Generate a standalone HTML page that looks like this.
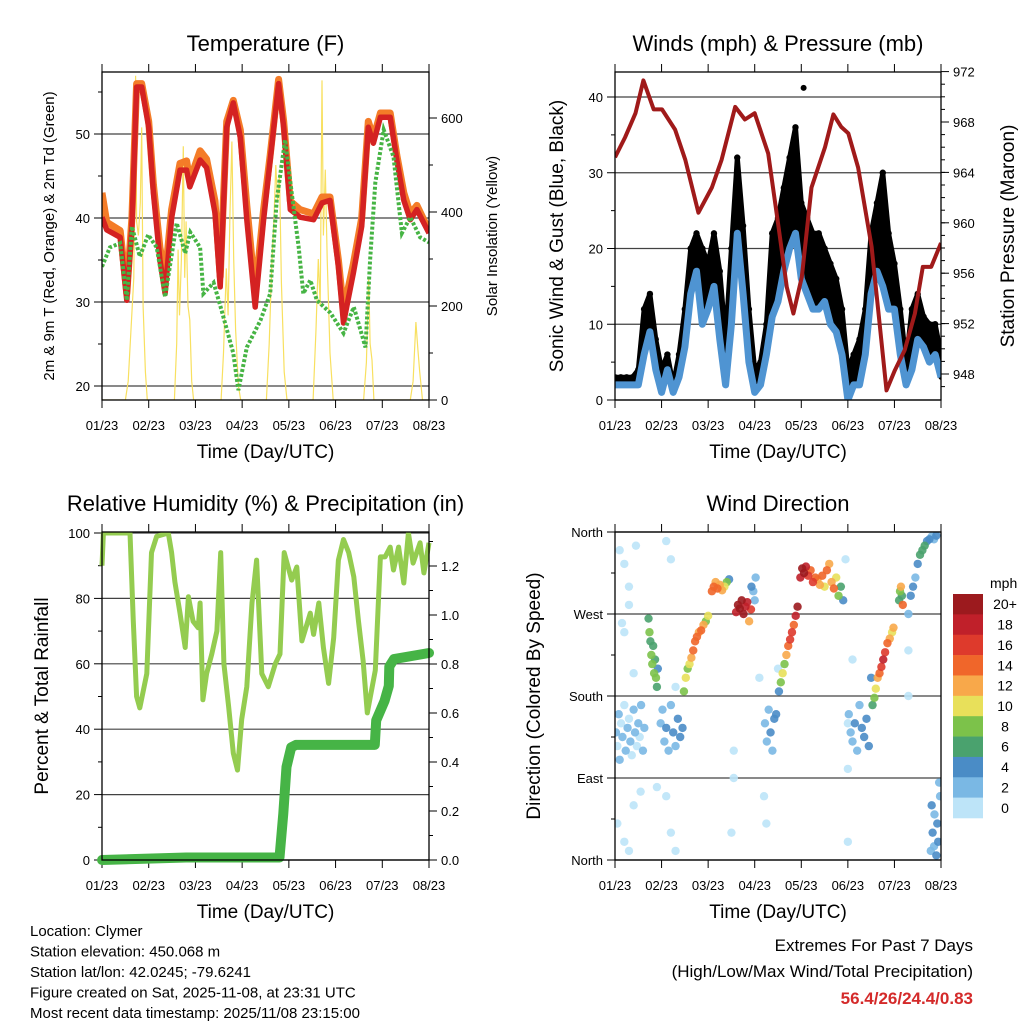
<!DOCTYPE html>
<html><head><meta charset="utf-8"><title>Station Meteogram</title>
<style>
html,body{margin:0;padding:0;background:#fff;}
svg{display:block;font-family:"Liberation Sans",Arial,sans-serif;}
</style></head>
<body>
<svg id="root" width="1024" height="1024" viewBox="0 0 1024 1024" xmlns="http://www.w3.org/2000/svg">
<rect x="0" y="0" width="1024" height="1024" fill="#fff"/>
</svg>
<script>
// ---------- DATA ----------
const xTickLabels = ["01/23","02/23","03/23","04/23","05/23","06/23","07/23","08/23"];
// Temperature
const tempDays = [0,0.1,0.39,0.53,0.64,0.74,0.85,1.0,1.1,1.24,1.35,1.49,1.67,1.81,1.88,2.1,2.24,2.42,2.53,2.67,2.81,2.96,3.1,3.28,3.46,3.6,3.78,3.89,4.03,4.24,4.53,4.71,4.88,5.06,5.17,5.38,5.56,5.7,5.81,5.96,6.17,6.31,6.46,6.6,6.74,7.0];
const tempRed = [40.1,38.6,37.7,30.2,39,55.6,55.6,50.8,43,35,31,40,45.7,45.7,43.7,46.9,46,40.6,31.8,50.8,53.7,49.6,39.8,29.4,39.8,46.9,56,50.8,41,40.1,39.8,41.8,42.1,34.2,27.5,33.4,39,50.8,48.9,52,52,46.9,42.1,39.8,41,38.2];
const tempOrange = [43,39.5,38.5,31,40,56,56,51.5,44,36.5,33,41,46.5,46.8,44.5,48,47,42,33,51.5,54,50.5,41.5,31,41,47.5,56.5,51.5,42,41,40.5,42.5,42.5,35,29,34.5,40,51.5,49.5,52.5,52.5,47.5,43,40.5,41.5,38.5];
const dewDays = [0,0.17,0.39,0.53,0.64,0.81,0.99,1.17,1.35,1.6,1.78,1.89,2.1,2.17,2.39,2.56,2.81,2.92,3.1,3.39,3.6,3.74,3.92,4.06,4.21,4.31,4.46,4.6,4.89,5.17,5.39,5.64,5.74,5.85,6.03,6.24,6.42,6.6,6.81,7.0];
const dewVals = [34.2,36.5,37,30.2,39,35.4,38,36.5,30.6,39.4,35.8,38.3,36.5,31,32.3,29,23.9,19.5,24.6,27.8,31,42.1,49.3,43,36.5,31,32.6,30.2,28.7,26.3,29.4,24.6,35,44.2,50.5,47.3,38.2,40.1,37.7,37.1];
const solarDays = [0,0.5,0.56,0.62,0.68,0.72,0.74,0.78,0.82,0.85,0.88,0.93,0.97,1.55,1.6,1.63,1.66,1.7,1.74,1.77,1.8,1.84,1.88,1.92,1.96,2.55,2.6,2.66,2.7,2.74,2.78,2.82,2.86,2.92,2.97,3.52,3.58,3.64,3.68,3.72,3.76,3.8,3.84,3.9,3.96,4.52,4.58,4.63,4.67,4.71,4.74,4.78,4.82,4.88,4.95,5.6,5.66,5.71,5.74,5.78,5.82,6.6,6.66,6.72,6.76,6.8,6.86,7.0];
const solarVals = [0,0,40,150,260,690,380,350,420,580,200,60,0,0,120,320,180,300,540,260,380,200,170,40,0,0,100,280,180,400,550,300,150,30,0,0,120,300,380,500,420,480,250,60,0,0,150,300,200,680,350,490,300,100,0,0,80,262,120,85,0,0,40,166,110,60,0,0];
// Winds (3-hourly)
const windVals = [2,2,2,2,2,6,9,4,1,4,1,3,7,14,17,10,12,15,8,2,10,22,14,5,1,2,6,11,13,17,20,22,16,14,12,12,13,10,9,6,0,2,2,6,14,17,15,12,12,6,2,4,8,7,5,6,3];
const gustVals = [3,3,3,3,4,12,14,8,4,6,2,6,12,20,22,20,18,22,17,8,20,32,23,12,4,5,10,22,24,28,32,36,26,24,22,22,20,18,16,12,4,6,8,12,22,26,30,22,18,12,5,12,14,11,10,10,6];
const gustOutlierDay = [4.05];
const gustOutlierVal = [41.2];
const presDays = [0,0.22,0.44,0.61,0.83,1.01,1.29,1.51,1.79,2.08,2.29,2.58,2.79,3.0,3.29,3.51,3.69,3.83,4.01,4.22,4.51,4.69,4.86,5.01,5.22,5.51,5.69,5.83,6.01,6.22,6.44,6.61,6.79,7.0];
const presVals = [965.2,966.8,968.7,971.3,969,969,967.4,965,960.8,962.8,965,969.2,968.2,968.7,965.5,959.7,954.9,952.8,955.7,962.8,966,968.6,967.6,967.1,964.4,958.1,951.7,946.7,948.3,949.9,952.8,956.5,956.5,958.4];
// RH & Precip
const rhDays = [0,0.03,0.6,0.67,0.74,0.81,0.96,1.06,1.17,1.42,1.49,1.56,1.67,1.78,1.85,1.95,2.06,2.1,2.16,2.24,2.35,2.46,2.54,2.61,2.71,2.81,2.9,2.99,3.1,3.21,3.31,3.42,3.56,3.71,3.81,3.9,4.06,4.17,4.28,4.46,4.53,4.64,4.74,4.85,4.96,5.06,5.17,5.28,5.39,5.49,5.59,5.68,5.85,5.96,6.06,6.17,6.24,6.35,6.46,6.56,6.66,6.81,6.89,7.0];
const rhVals = [90,100,100,73,50,46.5,57,94,99,100,94,85,75.5,65,80.5,73,71,78.6,49,57,63,70,94,60,47,32.7,27.5,43,53,78.6,91.7,57,53,60,63,94,85.6,89.6,67,75.5,69,78.6,65,54,68,91.7,98,94,86.6,73,61,45,58,92.7,92.7,95.7,88.7,95.7,84.7,100,90.8,97,87.8,97];
const precipDays = [0,1.8,3.8,3.88,3.95,4.05,4.15,5.84,5.87,6.05,6.14,6.15,6.25,7.0];
const precipVals = [0,0.01,0.01,0.19,0.38,0.46,0.47,0.47,0.57,0.65,0.71,0.79,0.82,0.845];
// Wind direction
const dirDays = [0.02,0.05,0.08,0.1,0.13,0.16,0.2,0.23,0.27,0.3,0.33,0.36,0.4,0.43,0.47,0.5,0.53,0.56,0.6,0.63,
 0.1,0.2,0.3,0.45,0.15,0.3,0.05,0.2,0.4,0.3,0.55,0.2,0.4,1.1,1.2,1.1,1.2,1.3,2.55,2.55,2.5,3.2,3.25,3.5,3.1,4.95,5.0,5.1,5.0,5.0,6.3,6.3,1.3,0.9,
 0.72,0.74,0.76,0.78,0.8,0.82,0.84,0.86,0.88,0.9,0.92,
 0.98,1.02,1.06,1.1,1.15,1.2,1.25,1.3,1.35,1.4,1.45,
 1.48,1.52,1.56,1.6,1.64,1.68,1.72,1.76,1.8,1.85,1.9,1.95,2.0,
 2.08,2.12,2.16,2.2,2.25,2.3,2.35,2.4,2.45,
 2.6,2.64,2.68,2.72,2.76,2.8,2.84,2.88,2.92,2.93,2.97,3.02,3.0,
 3.22,3.26,3.3,3.34,3.38,3.42,3.46,
 3.52,3.56,3.6,3.64,3.68,3.72,3.76,3.8,3.84,3.88,3.92,
 3.98,4.02,4.06,4.1,4.15,4.2,4.25,4.3,4.35,4.4,4.45,4.5,4.55,4.6,4.65,4.7,4.75,4.8,4.85,4.9,
 5.02,5.06,5.1,5.15,5.2,5.25,5.3,5.35,5.4,5.45,5.5,
 5.53,5.57,5.6,5.64,5.68,5.72,5.76,5.8,5.85,5.9,5.95,5.98,
 6.1,6.12,6.14,6.16,6.18,
 6.3,6.35,6.4,6.45,6.5,6.55,6.6,6.65,6.7,6.75,6.8,6.85,6.9,
 6.78,6.82,6.86,6.9,6.94,6.98,6.8,6.85,6.92,6.96];
const dirDeg = [140,125,160,110,150,135,170,120,145,155,130,115,165,140,125,150,135,170,120,145,
 340,325,300,345,260,280,40,20,60,10,75,250,205,350,330,70,30,10,120,90,30,70,40,210,200,330,150,220,100,20,180,230,190,80,
 265,250,240,225,215,235,205,220,200,190,210,
 150,165,130,145,120,170,140,125,155,135,145,
 185,200,210,215,222,230,240,245,250,252,258,262,268,
 295,300,305,298,302,296,300,305,308,
 272,280,276,285,270,278,283,262,275,300,295,310,285,
 150,130,165,140,120,155,160,
 185,195,205,215,225,235,242,250,258,268,278,
 310,320,315,322,312,318,305,310,308,302,312,300,318,325,305,298,310,290,300,285,
 160,140,130,150,120,170,145,135,155,125,200,
 170,178,188,200,205,212,220,228,238,243,250,255,
 285,295,300,290,280,
 270,290,300,310,325,335,340,345,350,352,355,352,356,
 10,30,50,5,20,70,60,15,40,85];
const dirSpd = [2,1,2,3,1,2,1,2,3,1,2,1,2,3,1,2,1,2,3,2,
 0,1,0,1,0,1,0,1,1,0,1,0,1,0,1,1,0,1,1,0,1,1,0,1,0,1,0,1,0,1,1,0,1,0,
 6,8,7,9,8,6,9,7,8,6,4,
 2,3,2,4,3,2,4,3,4,4,5,
 9,10,8,11,13,14,15,14,13,15,12,9,11,
 14,15,13,14,12,13,10,8,4,
 19,21,22,20,22,18,19,12,16,4,3,3,2,
 2,3,3,4,3,4,4,
 5,8,11,9,12,14,16,17,15,18,20,
 18,21,22,19,16,15,17,14,12,13,14,11,15,13,12,14,10,9,6,4,
 2,3,2,4,3,2,4,4,5,4,4,
 7,8,10,12,14,16,18,17,15,13,10,12,
 7,9,12,6,14,
 3,4,4,3,5,6,7,6,5,4,3,3,4,
 3,4,3,4,5,2,4,3,4,3];
const cbLabels = ["20+","18","16","14","12","10","8","6","4","2","0"];
const cbColors = ["#9c1a1e","#c0202a","#de3a2c","#f0662a","#f8a84a","#e8e05a","#7cc24a","#4aa26e","#4a8cc6","#7ab8e4","#bde4f8"];

// ---------- HELPERS ----------
const NS="http://www.w3.org/2000/svg";
const root=document.getElementById('root');
function el(tag,attrs,parent,text){const e=document.createElementNS(NS,tag);for(const k in attrs)e.setAttribute(k,attrs[k]);if(text!==undefined)e.textContent=text;(parent||root).appendChild(e);return e;}
function grp(name){const g=el('g',{});


return g;}
function lin(d0,d1,r0,r1){return v=>r0+(v-d0)*(r1-r0)/(d1-d0);}

function panel(p){
  const g=grp(p.name);
  const xs=lin(0,7,p.x0,p.x1);
  for(let i=0;i<8;i++){
    const x=xs(i);
    el('line',{x1:x,y1:p.y1,x2:x,y2:p.y1+8,stroke:'#000','stroke-width':1},g);
    el('line',{x1:x,y1:p.y0,x2:x,y2:p.y0-8,stroke:'#000','stroke-width':1},g);
    const t=el('text',{x:x,y:p.y1+30,'font-size':13,'text-anchor':'middle',fill:'#000'},g,xTickLabels[i]);
    
    
  }
  const xt=el('text',{x:(p.x0+p.x1)/2,y:p.y1+58,'font-size':19,'text-anchor':'middle'},g,'Time (Day/UTC)');
  
  
  const tt=el('text',{x:(p.x0+p.x1)/2,y:p.y0-21,'font-size':22,'text-anchor':'middle'},g,p.title);
  
  
  return {g,xs};
}
function yAxis(g,p,sc,ticks,labels,side,minor,grid){
  ticks.forEach((v,i)=>{
    const y=sc(v);
    if(grid) el('line',{x1:p.x0,y1:y,x2:p.x1,y2:y,stroke:'#222','stroke-width':1.2,opacity:0.85},g);
    if(side==='l'){el('line',{x1:p.x0,y1:y,x2:p.x0-8,y2:y,stroke:'#000'},g);
      const t=el('text',{x:p.x0-12,y:y+5,'font-size':13,'text-anchor':'end'},g,labels[i]);
      
      }
    else {el('line',{x1:p.x1,y1:y,x2:p.x1+8,y2:y,stroke:'#000'},g);
      const t=el('text',{x:p.x1+12,y:y+5,'font-size':13,'text-anchor':'start'},g,labels[i]);
      
      }
  });
  (minor||[]).forEach(v=>{const y=sc(v);
    if(y<p.y0||y>p.y1) return;
    if(side==='l')el('line',{x1:p.x0,y1:y,x2:p.x0-4,y2:y,stroke:'#000'},g);
    else el('line',{x1:p.x1,y1:y,x2:p.x1+4,y2:y,stroke:'#000'},g);});
}
function frame(g,p){el('rect',{x:p.x0,y:p.y0,width:p.x1-p.x0,height:p.y1-p.y0,fill:'none',stroke:'#000','stroke-width':1.3},g);}
function vlabel(g,x,y,size,text,name){const t=el('text',{x:x,y:y,'font-size':size,'text-anchor':'middle',transform:`rotate(-90 ${x} ${y})`},g,text);
  
  }
function pathFrom(xsArr,ysArr){return xsArr.map((x,i)=>(i?'L':'M')+x.toFixed(1)+','+ysArr[i].toFixed(1)).join('');}
function range(a,b,s){const r=[];for(let v=a;v<=b+1e-9;v+=s)r.push(+v.toFixed(4));return r;}

// ---------- PANEL 1: Temperature ----------
{const p={name:'temperature-panel',title:'Temperature (F)',x0:102,x1:429,y0:72,y1:400};
 const {g,xs}=panel(p);
 const ys=lin(20,50,386,134), ys2=lin(0,600,400,118);
 yAxis(g,p,ys,[20,30,40,50],['20','30','40','50'],'l',[25,35,45,55],true);
 yAxis(g,p,ys2,[0,200,400,600],['0','200','400','600'],'r',[100,300,500],false);
 const cp=el('clipPath',{id:'c1'});el('rect',{x:p.x0,y:p.y0,width:p.x1-p.x0,height:p.y1-p.y0},cp);
 const cg=el('g',{'clip-path':'url(#c1)'},g);
 const sol=el('path',{d:pathFrom(solarDays.map(xs),solarVals.map(ys2)),fill:'none',stroke:'#f8e060','stroke-width':1.2},cg);
 
 
 const o=el('path',{d:pathFrom(tempDays.map(xs),tempOrange.map(ys)),fill:'none',stroke:'#f47c28','stroke-width':7,'stroke-linejoin':'round'},cg);
 
 
 const r=el('path',{d:pathFrom(tempDays.map(xs),tempRed.map(ys)),fill:'none',stroke:'#d42222','stroke-width':5.5,'stroke-linejoin':'round'},cg);
 
 
 const dg=el('path',{d:pathFrom(dewDays.map(xs),dewVals.map(ys)),fill:'none',stroke:'#46b444','stroke-width':4,'stroke-dasharray':'3 2'},cg);
 
 
 frame(g,p);
 vlabel(g,54,236,15,'2m & 9m T (Red, Orange) & 2m Td (Green)','y-axis-title');
 vlabel(g,497,236,15,'Solar Insolation (Yellow)','y2-axis-title');
}
// ---------- PANEL 2: Winds ----------
{const p={name:'winds-panel',title:'Winds (mph) & Pressure (mb)',x0:615,x1:941,y0:72,y1:400};
 const {g,xs}=panel(p);
 const ys=lin(0,40,400,97), ys2=lin(948,972,374,71.6);
 yAxis(g,p,ys,[0,10,20,30,40],['0','10','20','30','40'],'l',[5,15,25,35],true);
 yAxis(g,p,ys2,[948,952,956,960,964,968,972],['948','952','956','960','964','968','972'],'r',range(947,972,1),false);
 const cp=el('clipPath',{id:'c2'});el('rect',{x:p.x0,y:p.y0,width:p.x1-p.x0,height:p.y1-p.y0},cp);
 const cg=el('g',{'clip-path':'url(#c2)'},g);
 const wd=windVals.map((v,i)=>i*7/(windVals.length-1));
 const top=pathFrom(wd.map(xs),gustVals.map(ys));
 const bot=wd.map((d,i)=>'L'+xs(d).toFixed(1)+','+ys(windVals[i]).toFixed(1)).reverse().join('');
 const area=el('path',{d:top+bot+'Z',fill:'#000',stroke:'#000','stroke-width':5,'stroke-linejoin':'round'},cg);
 
 
 gustVals.forEach((v,i)=>{const c=el('circle',{cx:xs(wd[i]),cy:ys(v),r:3.2,fill:'#000'},cg);
   
   });
 gustOutlierVal.forEach((v,i)=>{const c=el('circle',{cx:xs(gustOutlierDay[i]),cy:ys(v),r:3,fill:'#000'},cg);
   
   });
 const w=el('path',{d:pathFrom(wd.map(xs),windVals.map(ys)),fill:'none',stroke:'#4f94d2','stroke-width':7,'stroke-linejoin':'round'},cg);
 
 
 const pr=el('path',{d:pathFrom(presDays.map(xs),presVals.map(ys2)),fill:'none',stroke:'#a01a1a','stroke-width':4,'stroke-linejoin':'round'},cg);
 
 
 frame(g,p);
 vlabel(g,563,236,19,'Sonic Wind & Gust (Blue, Black)','y-axis-title');
 vlabel(g,1014,236,19,'Station Pressure (Maroon)','y2-axis-title');
}
// ---------- PANEL 3: RH ----------
{const p={name:'humidity-panel',title:'Relative Humidity (%) & Precipitation (in)',x0:102,x1:429,y0:532,y1:860};
 const {g,xs}=panel(p);
 const ys=lin(0,100,860,533), ys2=lin(0,1.2,860,566);
 yAxis(g,p,ys,[0,20,40,60,80,100],['0','20','40','60','80','100'],'l',[10,30,50,70,90],true);
 yAxis(g,p,ys2,[0,0.2,0.4,0.6,0.8,1.0,1.2],['0.0','0.2','0.4','0.6','0.8','1.0','1.2'],'r',[0.1,0.3,0.5,0.7,0.9,1.1,1.3],false);
 const cp=el('clipPath',{id:'c3'});el('rect',{x:p.x0-6,y:p.y0,width:p.x1-p.x0+12,height:p.y1-p.y0+6},cp);
 const cg=el('g',{'clip-path':'url(#c3)'},g);
 const rh=el('path',{d:pathFrom(rhDays.map(xs),rhVals.map(ys)),fill:'none',stroke:'#94cc50','stroke-width':5,'stroke-linejoin':'round'},cg);
 
 
 const pc=el('path',{d:pathFrom(precipDays.map(xs),precipVals.map(ys2)),fill:'none',stroke:'#46b446','stroke-width':10,'stroke-linejoin':'round','stroke-linecap':'round'},cg);
 
 
 frame(g,p);
 vlabel(g,48,696,19,'Percent & Total Rainfall','y-axis-title');
}
// ---------- PANEL 4: Wind direction ----------
{const p={name:'wind-direction-panel',title:'Wind Direction',x0:615,x1:941,y0:532,y1:860};
 const {g,xs}=panel(p);
 const ys=lin(0,360,860,532);
 yAxis(g,p,ys,[0,90,180,270,360],['North','East','South','West','North'],'l',[45,135,225,315],true);
 const cp=el('clipPath',{id:'c4'});el('rect',{x:p.x0,y:p.y0,width:p.x1-p.x0,height:p.y1-p.y0},cp);
 const cg=el('g',{'clip-path':'url(#c4)'},g);
 const order=dirSpd.map((s,i)=>i).sort((a,b)=>dirSpd[a]-dirSpd[b]);
 order.forEach(i=>{
   const idx=Math.min(10,Math.floor(dirSpd[i]/2));
   const c=el('circle',{cx:xs(dirDays[i]),cy:ys(dirDeg[i]),r:4.2,fill:cbColors[10-idx],opacity:0.9},cg);
   
   
 });
 frame(g,p);
 vlabel(g,540,696,19,'Direction (Colored By Speed)','y-axis-title');
 const cb=grp('speed-colorbar');
 const t=el('text',{x:990,y:588,'font-size':14},cb,'mph');
 
 
 const h=(818-594)/cbColors.length;
 cbColors.forEach((c,i)=>{
   const r=el('rect',{x:953,y:594+i*h,width:30,height:h+0.3,fill:c},cb);
   
   
   const l=el('text',{x:1005,y:594+i*h+h/2+5,'font-size':14,'text-anchor':'middle'},cb,cbLabels[i]);
   
   
 });
}
// ---------- Footer text ----------
{const g=grp('station-info');
 const lines=['Location: Clymer','Station elevation: 450.068 m','Station lat/lon: 42.0245; -79.6241','Figure created on Sat, 2025-11-08, at 23:31 UTC','Most recent data timestamp: 2025/11/08 23:15:00'];
 lines.forEach((s,i)=>{const t=el('text',{x:30,y:936+i*20.5,'font-size':15},g,s);
   
   });
 const e=grp('extremes-summary');
 const a=el('text',{x:973,y:951,'font-size':17,'text-anchor':'end'},e,'Extremes For Past 7 Days');
 
 
 const b=el('text',{x:973,y:977,'font-size':17,'text-anchor':'end'},e,'(High/Low/Max Wind/Total Precipitation)');
 
 
 const c=el('text',{x:973,y:1004,'font-size':17,'text-anchor':'end','font-weight':'bold',fill:'#d42a2a'},e,'56.4/26/24.4/0.83');
 
 
}
</script>
</body></html>
